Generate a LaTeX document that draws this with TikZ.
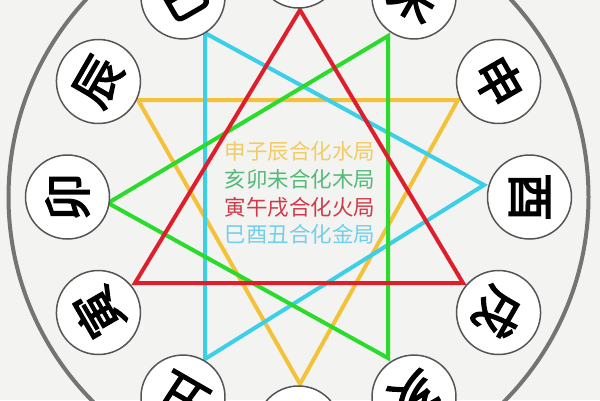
\documentclass[tikz,border=0pt]{standalone}
\usepackage{fontspec}
\newfontfamily\cjk{Noto Sans CJK SC}
\newfontfamily\cjkb{Noto Sans CJK SC}[FakeBold=3]
\usetikzlibrary{calc}
\definecolor{bg}{HTML}{F3F4F1}
\definecolor{ringgray}{HTML}{747474}
\definecolor{circgray}{HTML}{555555}
\definecolor{triyellow}{HTML}{F4C13A}
\definecolor{trigreen}{HTML}{2BDB2B}
\definecolor{trired}{HTML}{DF1E2C}
\definecolor{tricyan}{HTML}{3BCFE8}
\definecolor{txtyellow}{HTML}{F0CC66}
\definecolor{txtgreen}{HTML}{55B97A}
\definecolor{txtred}{HTML}{CF3A48}
\definecolor{txtcyan}{HTML}{72CFEB}
\tikzset{
  branch/.style={circle, draw=circgray, line width=1.5pt, fill=white, minimum size=84pt, inner sep=0pt, font=\cjkb\fontsize{48}{48}\selectfont},
  tri/.style={line width=4pt, line join=miter},
  label/.style={font=\cjk\fontsize{21.5}{21.5}\selectfont, inner sep=0pt}
}
\begin{document}
\begin{tikzpicture}[x=1pt,y=-1pt]
\useasboundingbox (0,0) rectangle (600,400);
\clip (0,0) rectangle (600,400);
\fill[bg] (0,0) rectangle (600,400);
\coordinate (ctr) at (298.5,197);
\node[circle, draw=ringgray, line width=4pt, minimum size=580pt, inner sep=0pt] (outer) at (ctr) {};
% triangle vertices
\coordinate (y1) at (138,100);
\coordinate (y2) at (458,100);
\coordinate (y3) at (300,384);
\coordinate (g1) at (108,203);
\coordinate (g2) at (388,36);
\coordinate (g3) at (388,358);
\coordinate (r1) at (300,10);
\coordinate (r2) at (135,283);
\coordinate (r3) at (463,283);
\coordinate (c1) at (205,33);
\coordinate (c2) at (484,185);
\coordinate (c3) at (205,359);
\draw[tri, triyellow] (y1) -- (y2) -- (y3) -- cycle;
\draw[tri, tricyan] (c1) -- (c2) -- (c3) -- cycle;
\draw[tri, trigreen] (g1) -- (g2) -- (g3) -- cycle;
\draw[tri, trired] (r1) -- (r2) -- (r3) -- cycle;
% branch circles
\foreach \n/\c/\a in {wu/午/90, wei/未/60, shen/申/30, you/酉/0, xu/戌/-30, hai/亥/-60, zi/子/-90, chou/丑/-120, yin/寅/-150, mao/卯/180, chen/辰/150, si/巳/120}{
  \node[branch, rotate=\a-90] (\n) at ($(ctr)+(-\a:231)$) {\c};
}
% center text
\node[label, text=txtyellow] (l1) at (300,151) {申子辰合化水局};
\node[label, text=txtgreen] (l2) at (300,179) {亥卯未合化木局};
\node[label, text=txtred] (l3) at (300,207) {寅午戌合化火局};
\node[label, text=txtcyan] (l4) at (300,234) {巳酉丑合化金局};
\end{tikzpicture}
\end{document}
